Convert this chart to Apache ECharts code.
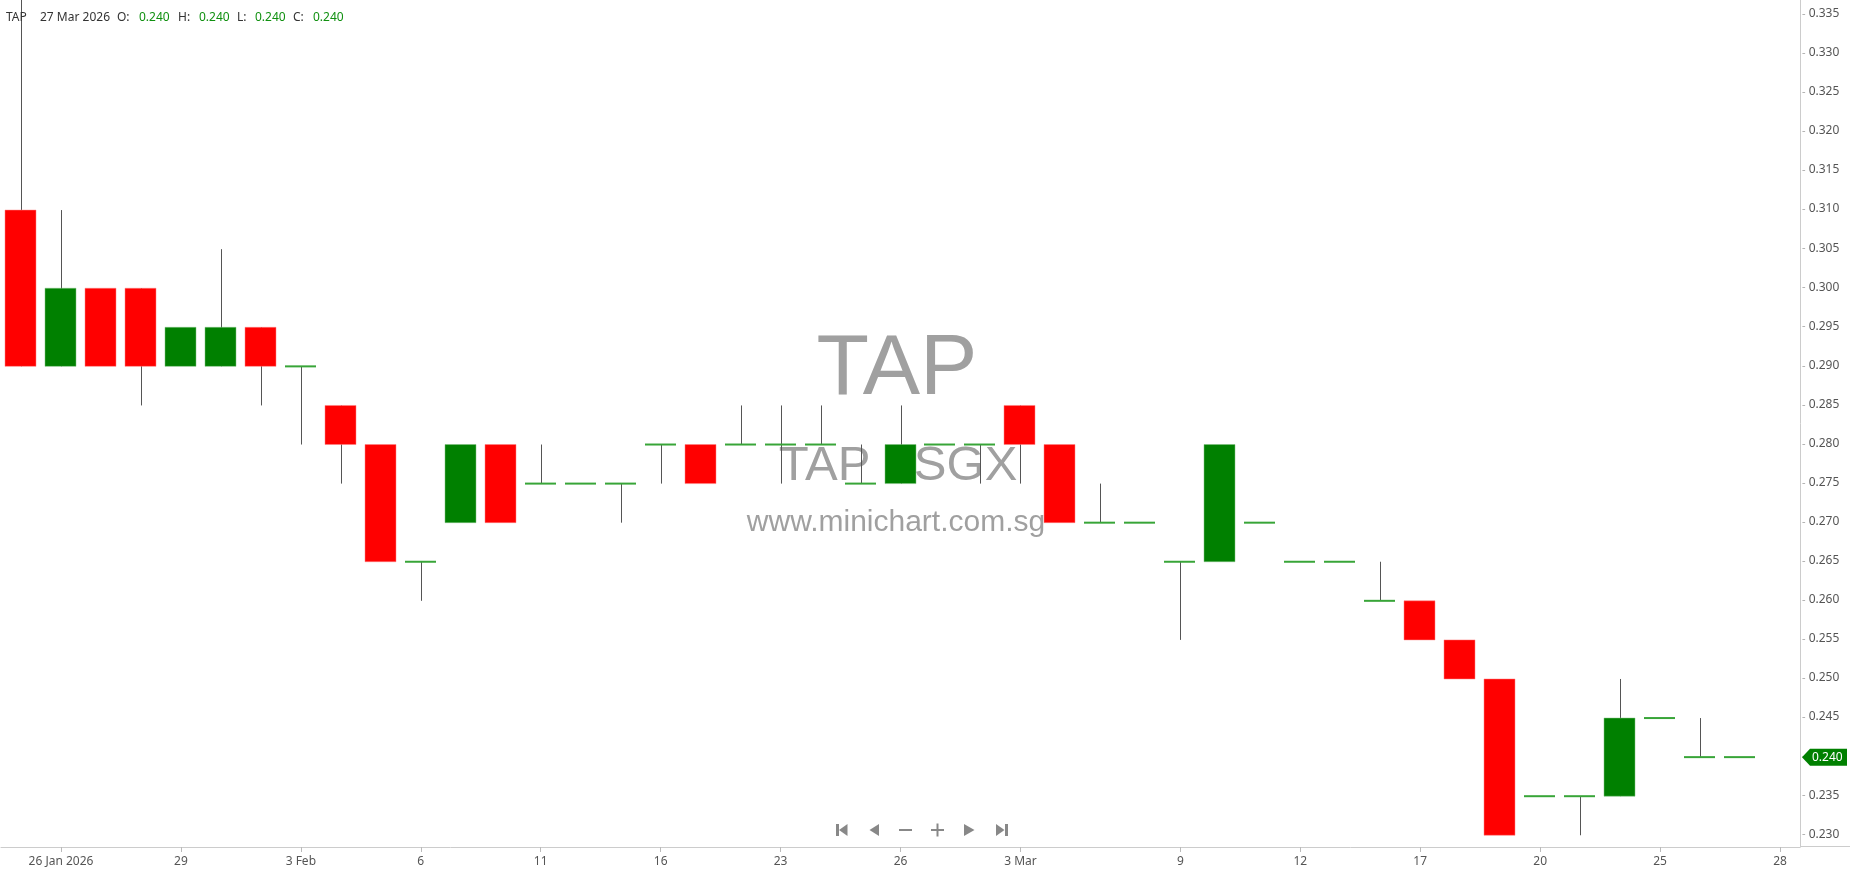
<!DOCTYPE html>
<html>
<head>
<meta charset="utf-8">
<script src="https://cdn.jsdelivr.net/npm/echarts@6/dist/echarts.min.js"></script>
<style>
html,body{margin:0;padding:0;background:#fff;}
#chart{width:1850px;height:874px;}
</style>
</head>
<body>
<div id="chart"></div>
<script>
var symbol = 'TAP';
var categories = ['2026-01-23','2026-01-26','2026-01-27','2026-01-28','2026-01-29','2026-01-30','2026-02-02','2026-02-03','2026-02-04','2026-02-05','2026-02-06','2026-02-09','2026-02-10','2026-02-11','2026-02-12','2026-02-13','2026-02-16','2026-02-19','2026-02-20','2026-02-23','2026-02-24','2026-02-25','2026-02-26','2026-02-27','2026-03-02','2026-03-03','2026-03-04','2026-03-05','2026-03-06','2026-03-09','2026-03-10','2026-03-11','2026-03-12','2026-03-13','2026-03-16','2026-03-17','2026-03-18','2026-03-19','2026-03-20','2026-03-23','2026-03-24','2026-03-25','2026-03-26','2026-03-27','2026-03-28'];
var tickLabels = ['','26 Jan 2026','','','29','','','3 Feb','','','6','','','11','','','16','','','23','','','26','','','3 Mar','','','','9','','','12','','','17','','','20','','','25','','','28'];
var openV  = [0.310,0.290,0.300,0.300,0.290,0.290,0.295,0.290,0.285,0.280,0.265,0.270,0.280,0.275,0.275,0.275,0.280,0.280,0.280,0.280,0.280,0.275,0.275,0.280,0.280,0.285,0.280,0.270,0.270,0.265,0.265,0.270,0.265,0.265,0.260,0.260,0.255,0.250,0.235,0.235,0.235,0.245,0.240,0.240];
var highV  = [0.337,0.310,0.300,0.300,0.295,0.305,0.295,0.290,0.285,0.280,0.265,0.280,0.280,0.280,0.275,0.275,0.280,0.280,0.285,0.285,0.285,0.280,0.285,0.280,0.280,0.285,0.280,0.275,0.270,0.265,0.280,0.270,0.265,0.265,0.265,0.260,0.255,0.250,0.235,0.235,0.250,0.245,0.245,0.240];
var lowV   = [0.290,0.290,0.290,0.285,0.290,0.290,0.285,0.280,0.275,0.265,0.260,0.270,0.270,0.275,0.275,0.270,0.275,0.275,0.280,0.275,0.280,0.275,0.275,0.280,0.275,0.275,0.270,0.270,0.270,0.255,0.265,0.270,0.265,0.265,0.260,0.255,0.250,0.230,0.235,0.230,0.235,0.245,0.240,0.240];
var closeV = [0.290,0.300,0.290,0.290,0.295,0.295,0.290,0.290,0.280,0.265,0.265,0.280,0.270,0.275,0.275,0.275,0.280,0.275,0.280,0.280,0.280,0.275,0.280,0.280,0.280,0.280,0.270,0.270,0.270,0.265,0.280,0.270,0.265,0.265,0.260,0.255,0.250,0.230,0.235,0.235,0.245,0.245,0.240,0.240];
var yTicks = [0.230,0.235,0.240,0.245,0.250,0.255,0.260,0.265,0.270,0.275,0.280,0.285,0.290,0.295,0.300,0.305,0.310,0.315,0.320,0.325,0.330,0.335];

var FONT = '"Noto Sans", "Open Sans", sans-serif';
var data = [];
for (var i = 0; i < openV.length; i++) data.push([i, openV[i], closeV[i], lowV[i], highV[i]]);

function renderItem(params, api) {
  var idx = api.value(0), o = api.value(1), c = api.value(2), l = api.value(3), h = api.value(4);
  var pO = api.coord([idx, o]), pC = api.coord([idx, c]), pL = api.coord([idx, l]), pH = api.coord([idx, h]);
  var bw = api.size([1, 0])[0];
  var w = Math.round(bw * 0.78);
  var cx = Math.round(pO[0]);
  var xl = cx - Math.round(w / 2);
  var children = [];
  if (h > Math.max(o, c) || l < Math.min(o, c)) {
    children.push({type: 'line', shape: {x1: cx + 0.5, y1: pH[1], x2: cx + 0.5, y2: pL[1]},
      style: {stroke: '#555', lineWidth: 1}});
  }
  if (o === c) {
    children.push({type: 'rect', shape: {x: xl, y: pO[1] - 1, width: w, height: 2}, style: {fill: '#38a538'}});
  } else {
    children.push({type: 'rect', shape: {x: xl, y: Math.min(pO[1], pC[1]), width: w, height: Math.abs(pO[1] - pC[1])},
      style: {fill: c > o ? '#008000' : '#ff0000', stroke: c > o ? '#7fc07f' : '#ff8080', lineWidth: 0.5}});
  }
  return {type: 'group', children: children};
}

var chart = echarts.init(document.getElementById('chart'), null, {renderer: 'canvas'});
var option = {
  animation: false,
  backgroundColor: '#ffffff',
  grid: {left: 1, right: 50, top: 0, bottom: 27, containLabel: false, outerBoundsMode: 'none'},
  xAxis: {
    type: 'category', data: categories, boundaryGap: true,
    axisLine: {show: true, lineStyle: {color: '#cccccc', width: 1}},
    axisTick: {show: true, alignWithLabel: true, length: 5, lineStyle: {color: '#bbbbbb'},
      interval: function (i) { return tickLabels[i] !== ''; }},
    axisLabel: {show: true, fontFamily: FONT, fontSize: 12, color: '#555', margin: 9,
      interval: function (i) { return tickLabels[i] !== ''; },
      formatter: function (v, i) { return tickLabels[i]; }},
    splitLine: {show: false}
  },
  yAxis: {
    type: 'value', position: 'right', min: 0.2285, max: 0.33688, scale: true,
    axisLine: {show: true, lineStyle: {color: '#cccccc', width: 1}},
    axisTick: {show: false},
    splitLine: {show: false},
    axisLabel: {show: true, customValues: yTicks, margin: 2, fontFamily: FONT, fontSize: 12, color: '#555',
      padding: [0, 0, 2, 0],
      formatter: function (v) { return '{d|-} {v|' + Number(v).toFixed(3) + '}'; },
      rich: {d: {color: '#aaaaaa', fontFamily: FONT, fontSize: 11}, v: {color: '#555', fontFamily: FONT, fontSize: 12}}}
  },
  series: [{
    type: 'custom', renderItem: renderItem, data: data,
    encode: {x: 0, y: [1, 2, 3, 4]}, z: 5, clip: true
  }]
};
chart.setOption(option);

var last = data.length - 1;
var yLast = chart.convertToPixel({yAxisIndex: 0}, closeV[last]);
var green = '#109010';
var dark = '#333333';
function txt(x, y, s, color, size, family, align) {
  return {type: 'text', x: x, y: y, z: 100,
    style: {text: s, fill: color, fontSize: size, fontFamily: family || FONT, align: align || 'left', verticalAlign: 'middle'}};
}
function fmt(v) { return v.toFixed(3); }
var iconC = '#888888';
var WM = 'Liberation Sans, Arial, sans-serif';
var graphics = [
  // watermark
  {type: 'text', x: 897, y: 370, z: 0, style: {text: symbol, fill: '#a0a0a0', fontSize: 86, fontFamily: WM, align: 'center', verticalAlign: 'middle'}},
  {type: 'text', x: 898, y: 466, z: 0, style: {text: symbol + ' - SGX', fill: '#a0a0a0', fontSize: 49, fontFamily: WM, align: 'center', verticalAlign: 'middle'}},
  {type: 'text', x: 896, y: 523, z: 0, style: {text: 'www.minichart.com.sg', fill: '#a0a0a0', fontSize: 30, fontFamily: WM, align: 'center', verticalAlign: 'middle'}},
  // header
  txt(6, 18, symbol, dark, 12),
  txt(40, 18, '27 Mar 2026', dark, 12),
  txt(117, 18, 'O:', dark, 12),
  txt(139, 18, fmt(openV[last]), green, 12),
  txt(178, 18, 'H:', dark, 12),
  txt(199, 18, fmt(highV[last]), green, 12),
  txt(237, 18, 'L:', dark, 12),
  txt(255, 18, fmt(lowV[last]), green, 12),
  txt(293, 18, 'C:', dark, 12),
  txt(313, 18, fmt(closeV[last]), green, 12),
  // extend x-axis line to right edge
  {type: 'line', z: 10, shape: {x1: 1800, y1: 846.5, x2: 1850, y2: 846.5}, style: {stroke: '#cccccc', lineWidth: 1}},
  // price tag
  {type: 'polygon', z: 100, shape: {points: [[1802, yLast], [1810, yLast - 8.5], [1847, yLast - 8.5], [1847, yLast + 8.5], [1810, yLast + 8.5]]}, style: {fill: '#008000'}},
  txt(1812, yLast, fmt(closeV[last]), '#ffffff', 12),
  // navigation icons
  {type: 'rect', z: 100, shape: {x: 836, y: 824, width: 3, height: 12}, style: {fill: iconC}},
  {type: 'polygon', z: 100, shape: {points: [[847.5, 824], [839, 830], [847.5, 836]]}, style: {fill: iconC}},
  {type: 'polygon', z: 100, shape: {points: [[879, 824], [869.5, 830], [879, 836]]}, style: {fill: iconC}},
  {type: 'rect', z: 100, shape: {x: 899, y: 829, width: 13, height: 2}, style: {fill: iconC}},
  {type: 'rect', z: 100, shape: {x: 931, y: 829, width: 13, height: 2}, style: {fill: iconC}},
  {type: 'rect', z: 100, shape: {x: 936.5, y: 823.5, width: 2, height: 13}, style: {fill: iconC}},
  {type: 'polygon', z: 100, shape: {points: [[964, 824], [974.5, 830], [964, 836]]}, style: {fill: iconC}},
  {type: 'polygon', z: 100, shape: {points: [[996, 824], [1004.5, 830], [996, 836]]}, style: {fill: iconC}},
  {type: 'rect', z: 100, shape: {x: 1005, y: 824, width: 3, height: 12}, style: {fill: iconC}}
];
chart.setOption({graphic: graphics});
</script>
</body>
</html>
